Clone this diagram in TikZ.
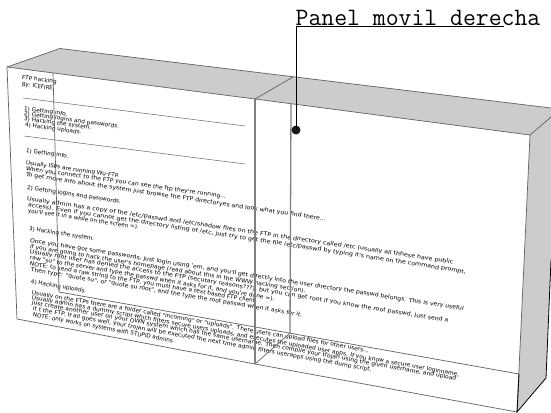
\documentclass[tikz,border=0pt]{standalone}
\usepackage{fontspec}
\usepackage{graphicx}
\font\tlf="DejaVu Sans" at 5.6pt
\newlength{\tlw}
\newcounter{tlc}
\newsavebox{\tlbox}
\newcommand{\tl}[5]{%
  \stepcounter{tlc}%
  \sbox{\tlbox}{\pgfinterruptpicture\tlf #5\endpgfinterruptpicture}%
  \setlength{\tlw}{\wd\tlbox}%
  \pgfmathsetmacro{\tlr}{#4/\tlw}%
  \pgfmathsetmacro{\tla}{-atan(#3)}%
  \node[pagetext,rotate=\tla] (t\thetlc) at (#1,#2) {\scalebox{\tlr}[1]{\usebox{\tlbox}}};%
}
\tikzset{
  pagetext/.style={anchor=west,inner sep=0pt,outer sep=0pt,text=black!85},
  edge/.style={draw=black!62,line width=0.7pt},
  hinge/.style={draw=black!50,line width=1.3pt},
  rulec/.style={draw=black!60,line width=0.5pt},
  shade/.style={fill=black!20},
  leader/.style={draw=black,line width=1pt},
}
\begin{document}
\begin{tikzpicture}[x=1pt,y=-1pt]
\useasboundingbox (0,0) rectangle (551,412);
\clip (0,0) rectangle (551,412);
% vertices
\coordinate (ftl) at (7,67);
\coordinate (ftm) at (255,99);
\coordinate (ftr) at (530,135);
\coordinate (fbl) at (17,319);
\coordinate (fbm) at (255,364);
\coordinate (fbr) at (517,412);
\coordinate (btl) at (60,48.5);
\coordinate (btm) at (293,77);
\coordinate (btr) at (551,108);
\coordinate (brc) at (551,117);
\coordinate (brm) at (551,260);
\coordinate (brb) at (546,378);
\coordinate (bl1) at (53,73);
\coordinate (bl2) at (59,292);
\coordinate (bm1) at (291,104);
\coordinate (bm2) at (290,333);
\coordinate (ib) at (519,374);
% shaded faces
\fill[shade] (ftl) -- (btl) -- (btr) -- (brc) -- (ftr) -- (ftm) -- cycle;
\fill[shade] (ftr) -- (brc) -- (551,260) -- (brb) -- (fbr) -- cycle;
% page text
\tl{22}{78}{.12}{35}{FTP hacking}
\tl{22}{85}{.12}{31}{By: ICEFIRE}
\tl{24}{109}{.135}{44}{1) Getting info.}
\tl{24}{114}{.135}{96}{2) Getting logins and passwords.}
\tl{24}{119}{.135}{68}{3) Hacking the system.}
\tl{25}{125}{.135}{57}{4) Hacking uploads.}
\tl{26}{151}{.137}{43}{1) Getting info.}
\tl{26}{163}{.142}{94}{Usually ISPs are running Wu-FTP.}
\tl{26}{169}{.139}{202}{When you connect to the FTP you can see the ftp they're running...}
\tl{26}{175}{.1485}{303}{To get more info about the system just browse the FTP directoryes and look what you find there...}
\tl{27}{188}{.15}{95}{2) Getting logins and passwords.}
\tl{27}{199}{.1485}{431}{Usually admin has a copy of the /etc/passwd and /etc/shadow files on the FTP in the directory called /etc (usually all thhese have public}
\tl{28}{205}{.1535}{443}{access). Even if you cannot get the directory listing of /etc, just try to get the file /etc/passwd by typing it's name on the command prompt,}
\tl{28}{211}{.15}{112}{you'll see it in a while on the screen =).}
\tl{29}{229}{.155}{66}{3) Hacking the system.}
\tl{30}{241}{.157}{439}{Once you have got some passwords, just login using 'em, and you'll get directly into the user directory the passwd belongs. This is very useful}
\tl{30}{247}{.161}{279}{if you are going to hack the user's homepage (read about this in the WWW hacking section).}
\tl{30}{252}{.165}{424}{Usually root user has denied the access to the FTP (secutary reasons???), but you can get root if you know the root passwd, just send a}
\tl{30}{258}{.169}{248}{raw "su" to the server and type the passwd when it asks for it, and you're done =).}
\tl{30}{264}{.165}{230}{NOTE: to send a raw string to the FTP, you must have a text based FTP client.}
\tl{31}{270}{.167}{275}{Then type: "quote su", or "quote su root", and the type the root passwd when it asks for it.}
\tl{31}{282}{.17}{56}{4) Hacking uploads.}
\tl{32}{293}{.1725}{342}{Usually on the FTPs there are a folder called "incoming" or "uploads". There users can upload files for other users...}
\tl{32}{298}{.18}{434}{Usually admin has a dummy script which filters secure users uploads, and executes the uploaded user apps. If you know a secure user loginname,}
\tl{32}{303}{.179}{431}{just create another user on your OWN system which has the same username. Then compile your trojan using the given username, and upload}
\tl{33}{309}{.18}{344}{it t the FTP. If all goes well, your trojan will be executed the next time admin filters userapps using the dump script.}
\tl{33}{315}{.1875}{144}{NOTE: only works on systems with STUPID admins.}
% rules
\coordinate (r1a) at (23,98); \coordinate (r1b) at (245,126);
\coordinate (r2a) at (24,136); \coordinate (r2b) at (245,164);
\draw[rulec] (r1a) -- (r1b);
\draw[rulec] (r2a) -- (r2b);
% box edges
\draw[edge] (ftl) -- (btl) -- (btr);
\draw[edge] (ftl) -- (ftm) -- (ftr) -- (brc);
\draw[edge] (ftl) -- (fbl) -- (fbm) -- (fbr);
\draw[edge] (ftm) -- (btm);
\draw[edge] (bl1) -- (bl2) -- (ib);
\draw[edge] (fbm) -- (bm2);
\draw[hinge] (bm1) -- (bm2);
\draw[hinge] (ftm) -- (fbm);
\draw[edge] (ftr) -- (fbr);
\draw[draw=black,line width=0.8pt] (ib) -- (fbr) -- (brb) -- (brm);
% label
\node[anchor=base west,inner sep=0pt,font=\ttfamily\fontsize{25}{25}\selectfont] (lab) at (295.5,26) {Panel movil derecha};
\coordinate (la) at (296,27);
\coordinate (lb) at (504,27);
\node[circle,fill=black!90,inner sep=0pt,minimum size=9pt] (dot) at (296,130) {};
\draw[leader] (lb) -- (la) -- (dot.center);
\end{tikzpicture}
\end{document}
